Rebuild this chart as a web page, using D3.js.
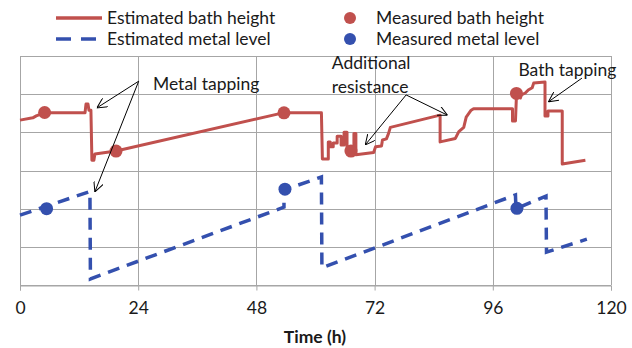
<!DOCTYPE html>
<html lang="en">
	<head>
		<meta charset="UTF-8" />
		<title>Bath height and metal level</title>
		<style>
			html,
			body {
				margin: 0;
				padding: 0;
				background: #fff;
			}
			svg text {
				font-family: Lato, 'Open Sans', sans-serif;
				fill: #1a1a1a;
			}
		</style>
	</head>
	<body>
		<svg id="chart"></svg>

		<script src="https://d3js.org/d3.v7.min.js"></script>

		<script>
			// x = time (h), y = level (no units shown on the chart)
			const xTicks = [0, 24, 48, 72, 96, 120];
			const yGrid = [0, 1, 2, 3, 4, 5, 6];

			const bathHeight = [
				[0, 4.32], [2.6, 4.38], [3.3, 4.43], [4.9, 4.51], [13.2, 4.51],
				[13.4, 4.74], [13.8, 4.74], [14.0, 4.58], [14.4, 4.58], [14.6, 3.27],
				[15.0, 3.27], [15.2, 3.43], [19.5, 3.51], [53.4, 4.51], [61.2, 4.51],
				[61.4, 3.3], [62.6, 3.3], [62.6, 3.75], [63.0, 3.75], [63.0, 3.62],
				[63.6, 3.62], [63.6, 3.72], [64.4, 3.72], [64.4, 3.9], [65.2, 3.9],
				[65.2, 3.67], [65.8, 3.67], [65.8, 4.0], [66.4, 4.0], [66.4, 3.48],
				[67.2, 3.51], [67.8, 3.48], [67.8, 3.97], [68.2, 3.97], [68.2, 3.41],
				[71.8, 3.47], [72.2, 3.62], [73.4, 3.64], [73.6, 3.8], [74.4, 3.83],
				[74.8, 3.96], [75.2, 4.13], [85.3, 4.45], [85.3, 3.75], [88.4, 3.84],
				[89.1, 4.02], [90.1, 4.13], [90.6, 4.4], [91.6, 4.58], [92.1, 4.62],
				[100.0, 4.62], [100.0, 4.3], [100.6, 4.3], [100.8, 4.95], [101.6, 4.9],
				[101.8, 4.98], [102.6, 5.03], [103.2, 5.11], [104.0, 5.17], [104.3, 5.29],
				[106.6, 5.32], [106.6, 4.43], [107.2, 4.43], [107.2, 4.56], [110.1, 4.56],
				[110.1, 3.17], [114.8, 3.27]
			];

			const metalLevel = [
				[0, 1.83], [14.2, 2.45], [14.3, 0.16], [53.6, 2.04], [53.6, 2.49],
				[61.2, 2.83], [61.3, 0.45], [100.6, 2.36], [100.7, 2.0], [106.8, 2.33],
				[106.9, 0.86], [115.1, 1.2]
			];

			const bathMeasured = [[5.0, 4.52], [19.5, 3.51], [53.6, 4.51], [67.2, 3.51], [100.8, 5.02]];
			const metalMeasured = [[5.4, 2.0], [53.8, 2.51], [100.9, 2.01]];

			// annotation arrows: [fromX, fromY, toX, toY] in data units
			const arrows = [
				[24.1, 5.34, 15.6, 4.64],
				[24.1, 5.34, 15.2, 2.44],
				[78.4, 4.98, 70.1, 3.67],
				[78.4, 4.98, 86.8, 4.45],
				[114.1, 5.42, 107.3, 4.8]
			];
			const notes = [
				{ x: 27.0, y: 5.28, lines: ['Metal tapping'] },
				{ x: 63.3, y: 5.81, lines: ['Additional', 'resistance'] },
				{ x: 101.2, y: 5.63, lines: ['Bath tapping'] }
			];

			const width = 632;
			const height = 348;
			const margin = { top: 56, right: 21, bottom: 63, left: 20 };
			const red = '#c0504d';
			const blue = '#3450ae';
			const gridColor = '#a6a6a6';
			const fontSize = 17.5;

			const svg = d3.select('#chart').attr('width', width).attr('height', height);

			const x = d3.scaleLinear().domain([0, 120]).range([margin.left, width - margin.right]);
			const y = d3.scaleLinear().domain([0, 6]).range([height - margin.bottom, margin.top]);

			svg.append('defs')
				.append('marker')
				.attr('id', 'head')
				.attr('viewBox', '0 0 10 10')
				.attr('refX', 10)
				.attr('refY', 5)
				.attr('markerWidth', 10)
				.attr('markerHeight', 10)
				.attr('markerUnits', 'userSpaceOnUse')
				.attr('orient', 'auto')
				.append('path')
				.attr('d', 'M0,0L10,5L0,10')
				.attr('fill', 'none')
				.attr('stroke', '#000')
				.attr('stroke-width', 1);

			// grid
			const grid = svg.append('g');
			grid.selectAll('.hgrid')
				.data(yGrid)
				.join('line')
				.attr('x1', x(0))
				.attr('x2', x(120))
				.attr('y1', (d) => Math.round(y(d)) + 0.5)
				.attr('y2', (d) => Math.round(y(d)) + 0.5)
				.attr('stroke', gridColor);
			grid.selectAll('.vgrid')
				.data(xTicks)
				.join('line')
				.attr('x1', (d) => Math.round(x(d)) + 0.5)
				.attr('x2', (d) => Math.round(x(d)) + 0.5)
				.attr('y1', y(6))
				.attr('y2', y(0))
				.attr('stroke', gridColor);

			const xAxis = svg
				.append('g')
				.attr('transform', `translate(0,${Math.round(y(0)) + 0.5})`)
				.call(d3.axisBottom(x).tickValues(xTicks).tickSize(5).tickPadding(11));
			xAxis.select('.domain').attr('stroke', gridColor);
			xAxis.selectAll('.tick line').attr('stroke', gridColor);
			xAxis.selectAll('.tick text').attr('font-size', fontSize).attr('fill', '#1a1a1a');

			svg.append('text')
				.attr('x', 315)
				.attr('y', 343)
				.attr('text-anchor', 'middle')
				.attr('font-size', fontSize)
				.attr('font-weight', 'bold')
				.text('Time (h)');

			const line = d3
				.line()
				.x((d) => x(d[0]))
				.y((d) => y(d[1]));

			svg.append('path')
				.attr('d', line(bathHeight))
				.attr('fill', 'none')
				.attr('stroke', red)
				.attr('stroke-width', 3)
				.attr('stroke-linejoin', 'round');

			svg.append('path')
				.attr('d', line(metalLevel))
				.attr('fill', 'none')
				.attr('stroke', blue)
				.attr('stroke-width', 3.5)
				.attr('stroke-dasharray', '12,8');

			svg.append('g')
				.selectAll('circle')
				.data(bathMeasured)
				.join('circle')
				.attr('cx', (d) => x(d[0]))
				.attr('cy', (d) => y(d[1]))
				.attr('r', 6.5)
				.attr('fill', red);

			svg.append('g')
				.selectAll('circle')
				.data(metalMeasured)
				.join('circle')
				.attr('cx', (d) => x(d[0]))
				.attr('cy', (d) => y(d[1]))
				.attr('r', 6.5)
				.attr('fill', blue);

			// annotations
			svg.append('g')
				.selectAll('line')
				.data(arrows)
				.join('line')
				.attr('x1', (d) => x(d[0]))
				.attr('y1', (d) => y(d[1]))
				.attr('x2', (d) => x(d[2]))
				.attr('y2', (d) => y(d[3]))
				.attr('stroke', '#000')
				.attr('stroke-width', 1)
				.attr('marker-end', 'url(#head)');

			notes.forEach((n) => {
				n.lines.forEach((t, i) => {
					svg.append('text')
						.attr('x', x(n.x))
						.attr('y', y(n.y) + i * 23.4)
						.attr('dy', '0.35em')
						.attr('font-size', fontSize)
						.text(t);
				});
			});

			// legend
			const legend = svg.append('g');
			const legendRows = [
				{ label: 'Estimated bath height', color: red, dash: null, lx: 56, ly: 18 },
				{ label: 'Estimated metal level', color: blue, dash: '15,10', lx: 56, ly: 39 }
			];
			legendRows.forEach((r) => {
				legend.append('line')
					.attr('x1', r.lx)
					.attr('x2', r.lx + 46)
					.attr('y1', r.ly)
					.attr('y2', r.ly)
					.attr('stroke', r.color)
					.attr('stroke-width', 3.5)
					.attr('stroke-dasharray', r.dash);
				legend.append('text')
					.attr('x', r.lx + 51)
					.attr('y', r.ly)
					.attr('dy', '0.35em')
					.attr('font-size', fontSize)
					.text(r.label);
			});
			const dotRows = [
				{ label: 'Measured bath height', color: red, lx: 350, ly: 18 },
				{ label: 'Measured metal level', color: blue, lx: 350, ly: 39 }
			];
			dotRows.forEach((r) => {
				legend.append('circle').attr('cx', r.lx).attr('cy', r.ly).attr('r', 6).attr('fill', r.color);
				legend.append('text')
					.attr('x', r.lx + 26)
					.attr('y', r.ly)
					.attr('dy', '0.35em')
					.attr('font-size', fontSize)
					.text(r.label);
			});
		</script>
	</body>
</html>
